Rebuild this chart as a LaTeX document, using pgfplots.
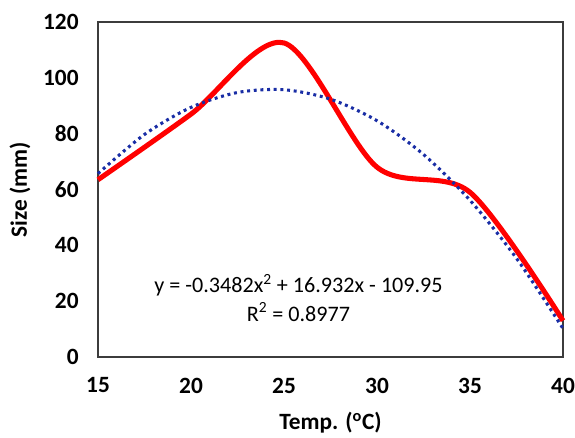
\documentclass[border=0pt]{standalone}
\usepackage{fontspec}
\setmainfont{Carlito}
\usepackage{pgfplots}
\pgfplotsset{compat=1.18}
\usetikzlibrary{calc}
\definecolor{trendblue}{RGB}{25,45,165}
\definecolor{framegray}{RGB}{60,60,60}
\begin{document}
\fontsize{16}{19}\selectfont
\begin{tikzpicture}
\begin{axis}[
  scale only axis,
  width=348.75pt, height=251.25pt,
  xmin=15, xmax=40, ymin=0, ymax=120,
  xtick={15,20,25,30,35,40},
  ytick={0,20,40,60,80,100,120},
  major tick length=0pt,
  axis line style={framegray, line width=1.1pt},
  /pgf/number format/assume math mode=true,
  tick label style={font=\fontsize{17.5}{20}\selectfont\bfseries},
  yticklabel style={xshift=-9pt},
  xticklabel style={yshift=-10pt},
  clip=false,
]
\addplot[red, line width=3.8pt, smooth] coordinates {
  (15,63.5) (20,87) (25,112.5) (30,68) (35,59) (40,13)
};
\addplot[trendblue, line width=2.3pt, dash pattern=on 2.2pt off 2.8pt, smooth] coordinates {
  (15,65.69) (17.5,79.72) (20,89.41) (22.5,94.74) (25,95.73) (27.5,92.35)
  (30,84.63) (32.5,72.55) (35,56.13) (37.5,35.34) (40,10.21)
};
\node[font=\fontsize{16.6}{19}\selectfont] at (axis cs:25.78,25.8) {y = -0.3482x\textsuperscript{2} + 16.932x - 109.95};
\node[font=\fontsize{16.6}{19}\selectfont] at (axis cs:25.78,16.1) {R\textsuperscript{2} = 0.8977};
\coordinate (bl) at (rel axis cs:0,0);
\coordinate (tr) at (rel axis cs:1,1);
\coordinate (ml) at (rel axis cs:0,0.5);
\coordinate (bm) at (rel axis cs:0.5,0);
\end{axis}
\node[rotate=90, font=\fontsize{17.5}{20}\selectfont\bfseries] at ($(ml)+(-58.5pt,0)$) {Size (mm)};
\node[font=\fontsize{17.5}{20}\selectfont\bfseries] at ($(bm)+(0,-49.5pt)$) {Temp. (\textsuperscript{o}C)};
\pgfresetboundingbox
\path[use as bounding box] ([shift={(-73.5pt,-60.75pt)}]bl) rectangle ([shift={(9pt,16.5pt)}]tr);
\end{tikzpicture}
\end{document}
